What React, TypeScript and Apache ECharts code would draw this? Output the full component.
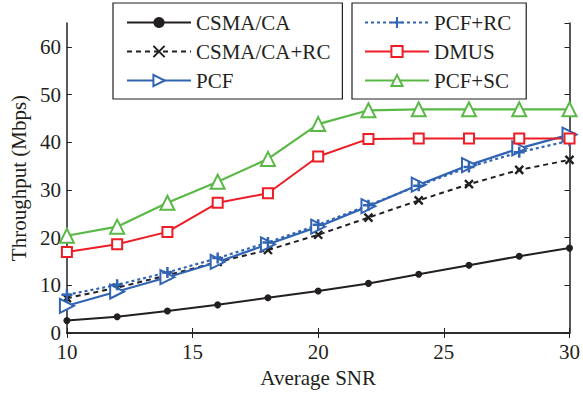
import React, { useEffect, useRef } from "react";
import * as echarts from "echarts";

const snr = [10, 12, 14, 16, 18, 20, 22, 24, 26, 28, 30];
const csmaCa = [2.6, 3.4, 4.6, 5.9, 7.4, 8.8, 10.4, 12.3, 14.2, 16.1, 17.8];
const csmaCaRc = [7.3, 9.5, 12.1, 14.9, 17.4, 20.6, 24.2, 27.8, 31.2, 34.2, 36.3];
const pcf = [5.7, 8.7, 11.7, 14.9, 18.6, 22.3, 26.6, 31.1, 35.2, 38.7, 41.6];
const pcfRc = [8.0, 10.1, 12.7, 15.7, 19.0, 22.7, 26.8, 30.9, 34.8, 37.9, 40.3];
const dmus = [17.0, 18.6, 21.2, 27.3, 29.3, 37.0, 40.7, 40.8, 40.8, 40.8, 40.8];
const pcfSc = [20.4, 22.3, 27.3, 31.7, 36.5, 43.8, 46.7, 46.9, 46.9, 46.9, 46.9];

const FONT = "Liberation Serif";
const BLACK = "#231f20";
const BLUE = "#3264b4";
const RED = "#ee1c25";
const GREEN = "#5ab946";

const pair = (ys: number[]) => snr.map((x, i) => [x, ys[i]]);

export default function App() {
  const ref = useRef<HTMLDivElement>(null);
  useEffect(() => {
    if (!ref.current) return;
    const chart = echarts.init(ref.current, undefined, { renderer: "svg" });
    const axisLine = { show: true, lineStyle: { color: BLACK, width: 1.5 } };
    const axisTick = { show: true, inside: true, length: 5, lineStyle: { color: BLACK, width: 1 } };
    const legendBase = {
      orient: "vertical" as const,
      top: 3,
      itemWidth: 64,
      itemHeight: 14,
      itemGap: 8,
      backgroundColor: "#fff",
      borderColor: BLACK,
      borderWidth: 1.2,
      textStyle: { fontFamily: FONT, fontSize: 21, color: BLACK, lineHeight: 21 },
      selectedMode: false,
    };
    chart.setOption({
      animation: false,
      backgroundColor: "#fff",
      grid: { left: 64, right: 10, top: 23, bottom: 61, containLabel: false },
      legend: [
        {
          ...legendBase,
          left: 113,
          padding: [9, 12, 8, 13],
          data: ["CSMA/CA", "CSMA/CA+RC", "PCF"],
        },
        {
          ...legendBase,
          left: 352,
          padding: [9, 15, 8, 12],
          data: ["PCF+RC", "DMUS", "PCF+SC"],
        },
      ],
      xAxis: [
        {
          type: "value",
          min: 10,
          max: 30,
          interval: 5,
          name: "Average SNR",
          nameLocation: "middle",
          nameGap: 34,
          nameTextStyle: { fontFamily: FONT, fontSize: 21, color: BLACK },
          axisLine,
          axisTick,
          splitLine: { show: false },
          axisLabel: { fontFamily: FONT, fontSize: 21, color: BLACK, margin: 8 },
        },
        {
          type: "value",
          position: "top",
          min: 10,
          max: 30,
          interval: 5,
          axisLine,
          axisTick,
          splitLine: { show: false },
          axisLabel: { show: false },
        },
      ],
      yAxis: [
        {
          type: "value",
          min: 0,
          max: 65,
          interval: 10,
          name: "Throughput (Mbps)",
          nameLocation: "middle",
          nameGap: 37,
          nameTextStyle: { fontFamily: FONT, fontSize: 21, color: BLACK },
          axisLine,
          axisTick,
          splitLine: { show: false },
          axisLabel: {
            fontFamily: FONT,
            fontSize: 21,
            color: BLACK,
            margin: 6,
            showMaxLabel: false,
            formatter: (v: number) => (v % 10 === 0 ? String(v) : ""),
          },
        },
        {
          type: "value",
          position: "right",
          min: 0,
          max: 65,
          interval: 10,
          axisLine,
          axisTick,
          splitLine: { show: false },
          axisLabel: { show: false },
        },
      ],
      series: [
        {
          name: "CSMA/CA",
          type: "line",
          data: pair(csmaCa),
          symbol: "circle",
          symbolSize: 7,
          itemStyle: { color: BLACK },
          lineStyle: { color: BLACK, width: 2 },
        },
        {
          name: "CSMA/CA+RC",
          type: "line",
          data: pair(csmaCaRc),
          symbol: "path://M0,0L10,10M10,0L0,10",
          symbolSize: 8,
          itemStyle: { color: BLACK, borderColor: BLACK, borderWidth: 2.4 },
          lineStyle: { color: BLACK, width: 2, type: [5, 4] },
        },
        {
          name: "PCF",
          type: "line",
          data: pair(pcf),
          symbol: "emptyTriangle",
          symbolRotate: -90,
          symbolSize: 14,
          itemStyle: { color: BLUE, borderWidth: 2.2 },
          lineStyle: { color: BLUE, width: 2.2 },
        },
        {
          name: "PCF+RC",
          type: "line",
          data: pair(pcfRc),
          symbol: "path://M5,0L5,10M0,5L10,5",
          symbolSize: 11,
          itemStyle: { color: BLUE, borderColor: BLUE, borderWidth: 2.5 },
          lineStyle: { color: BLUE, width: 2.2, type: [3, 3] },
        },
        {
          name: "DMUS",
          type: "line",
          data: pair(dmus),
          symbol: "emptyRect",
          symbolSize: 10,
          itemStyle: { color: RED, borderWidth: 2 },
          lineStyle: { color: RED, width: 2 },
        },
        {
          name: "PCF+SC",
          type: "line",
          data: pair(pcfSc),
          symbol: "emptyTriangle",
          symbolSize: 14,
          itemStyle: { color: GREEN, borderWidth: 2.2 },
          lineStyle: { color: GREEN, width: 2.2 },
        },
      ],
    });
    return () => chart.dispose();
  }, []);
  return <div ref={ref} style={{ width: 583, height: 394, position: "absolute", left: 0, top: 0 }} />;
}
